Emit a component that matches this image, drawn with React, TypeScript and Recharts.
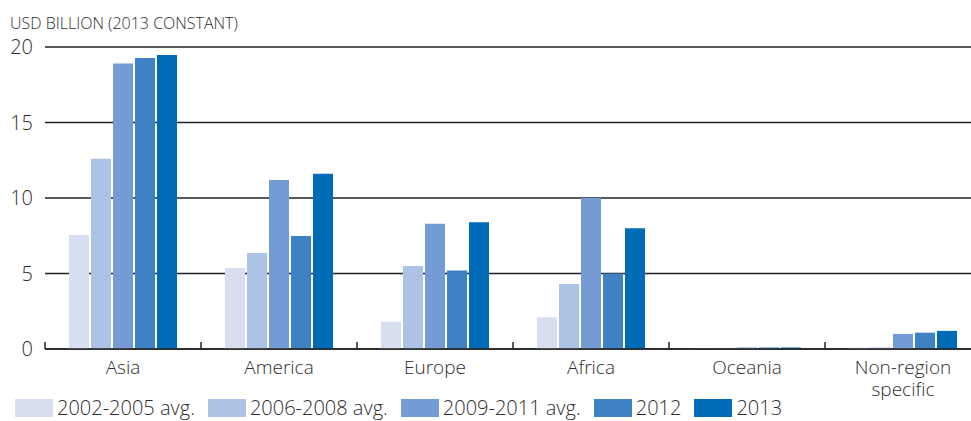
import React from "react";
import { BarChart, Bar, XAxis, YAxis, CartesianGrid } from "recharts";

const categories = ["Asia", "America", "Europe", "Africa", "Oceania", "Non-region\nspecific"];
const seriesNames = ["2002-2005 avg.", "2006-2008 avg.", "2009-2011 avg.", "2012", "2013"];
const seriesColors = ["#d6def0", "#adc3e5", "#749bd3", "#3e82c4", "#006bb6"];
const v2002_2005 = [7.55, 5.36, 1.8, 2.1, 0.02, 0.1];
const v2006_2008 = [12.6, 6.36, 5.5, 4.3, 0.02, 0.1];
const v2009_2011 = [18.9, 11.2, 8.3, 10.0, 0.1, 1.0];
const v2012 = [19.27, 7.48, 5.2, 5.0, 0.1, 1.08];
const v2013 = [19.47, 11.6, 8.4, 8.0, 0.1, 1.2];
const yTicks = [0, 5, 10, 15, 20];
const yTitle = "USD BILLION (2013 CONSTANT)";

const seriesValues = [v2002_2005, v2006_2008, v2009_2011, v2012, v2013];
const data = categories.map((c, i) => {
  const row: Record<string, any> = { name: c };
  seriesNames.forEach((s, k) => (row["s" + k] = seriesValues[k][i]));
  return row;
});

const FONT = "'Open Sans', 'Noto Sans', sans-serif";
const TEXT = "#2e2e2e";
const CHART_W = 990;
const CHART_H = 421;
const MARGIN = { top: 47, right: 9, left: 0, bottom: 0 };
const Y_W = 45;
const HALF_BAND = (CHART_W - MARGIN.left - MARGIN.right - Y_W) / categories.length / 2;

const XTick = (props: any) => {
  const { x, y, payload } = props;
  const lines = String(payload.value).split("\n");
  return (
    <g>
      <line x1={x - HALF_BAND} x2={x - HALF_BAND} y1={y - 7} y2={y} stroke="#222" strokeWidth={1.5} />
      <text x={x} y={y + 25} textAnchor="middle" fill={TEXT} fontSize={19} fontWeight={300} fontFamily={FONT}>
        {lines.map((l, i) => (
          <tspan key={i} x={x} dy={i === 0 ? 0 : 22}>
            {l}
          </tspan>
        ))}
      </text>
    </g>
  );
};

export default function App() {
  return (
    <div style={{ position: "absolute", left: 0, top: 0, width: 971, height: 421, overflow: "hidden", background: "#fff" }}>
      <div style={{ position: "absolute", left: 10, top: 12, fontFamily: FONT, fontSize: 16, fontWeight: 300, color: TEXT, letterSpacing: 0, whiteSpace: "nowrap" }}>
        {yTitle}
      </div>
      <BarChart width={CHART_W} height={CHART_H} data={data} margin={MARGIN} barCategoryGap={24} barGap={2}>
        <CartesianGrid vertical={false} stroke="#222" strokeWidth={1.4} />
        <XAxis
          dataKey="name"
          axisLine={{ stroke: "#222", strokeWidth: 1.5 }}
          tickLine={false}
          tickSize={0}
          tickMargin={0}
          height={CHART_H - 349 - MARGIN.bottom}
          tick={<XTick />}
          interval={0}
        />
        <YAxis
          width={Y_W}
          domain={[0, 20]}
          ticks={yTicks}
          axisLine={false}
          tickLine={false}
          tickSize={0}
          tickMargin={12}
          tick={{ fill: TEXT, fontSize: 20, fontWeight: 300, fontFamily: FONT }}
        />
        {seriesNames.map((s, k) => (
          <Bar key={s} dataKey={"s" + k} name={s} fill={seriesColors[k]} isAnimationActive={false} />
        ))}
      </BarChart>
      <div style={{ position: "absolute", left: 15, top: 399, display: "flex", alignItems: "center", fontFamily: FONT, fontSize: 20, fontWeight: 300, color: TEXT }}>
        {seriesNames.map((s, k) => (
          <div key={s} style={{ display: "flex", alignItems: "center", marginRight: 13 }}>
            <div style={{ width: 38, height: 18, background: seriesColors[k], marginRight: 4 }} />
            <span style={{ lineHeight: "18px", whiteSpace: "nowrap" }}>{s}</span>
          </div>
        ))}
      </div>
    </div>
  );
}
